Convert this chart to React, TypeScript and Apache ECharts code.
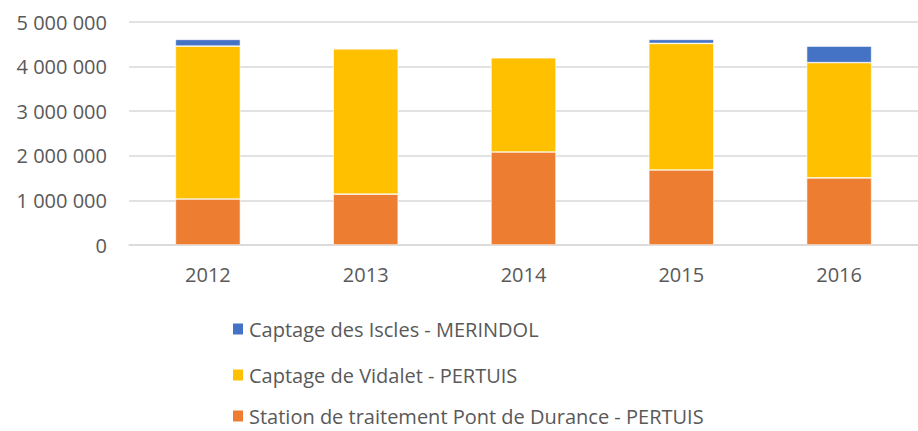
import React, { useEffect, useRef } from "react";
import * as echarts from "echarts";

const categories = ["2012", "2013", "2014", "2015", "2016"];
const seriesNames = [
  "Captage des Iscles - MERINDOL",
  "Captage de Vidalet - PERTUIS",
  "Station de traitement Pont de Durance - PERTUIS",
];
const stationPontDurance = [1030000, 1140000, 2085000, 1683000, 1504000];
const captageVidalet = [3430000, 3260000, 2115000, 2837000, 2586000];
const captageIscles = [150000, 0, 0, 90000, 370000];
const yTicks = [0, 1000000, 2000000, 3000000, 4000000, 5000000];

const colors = { iscles: "#4472C4", vidalet: "#FFC000", station: "#ED7D31" };
const FONT = "Open Sans";
const TEXT = "#595959";

function fmt(v: number): string {
  return String(v).replace(/\B(?=(\d{3})+(?!\d))/g, " ");
}

export default function App() {
  const ref = useRef<HTMLDivElement>(null);
  useEffect(() => {
    if (!ref.current) return;
    const chart = echarts.init(ref.current, undefined, { renderer: "svg" });
    const barStyle = (c: string) => ({ color: c, borderColor: "#ffffff", borderWidth: 0.6 });
    const legendTops = [319, 365, 406];
    const legends = seriesNames.map((n, i) => ({
      orient: "vertical",
      left: 231,
      top: legendTops[i],
      padding: 0,
      itemWidth: 12,
      itemHeight: 13,
      icon: "rect",
      data: [n],
      textStyle: { fontFamily: FONT, fontSize: 20, color: TEXT, lineHeight: 20 },
    }));
    chart.setOption({
      animation: false,
      backgroundColor: "#ffffff",
      grid: { left: 129, right: -8, top: 22, bottom: 186, containLabel: false },
      legend: legends,
      xAxis: {
        type: "category",
        data: categories,
        axisTick: { show: false },
        axisLine: { show: true, lineStyle: { color: "#D9D9D9", width: 1.5 } },
        axisLabel: { fontFamily: FONT, fontSize: 20, color: TEXT, margin: 19 },
      },
      yAxis: {
        type: "value",
        min: yTicks[0],
        max: yTicks[yTicks.length - 1],
        interval: 1000000,
        axisLine: { show: false },
        axisTick: { show: false },
        splitLine: { lineStyle: { color: "#D9D9D9", width: 1.5 } },
        axisLabel: {
          fontFamily: FONT,
          fontSize: 20,
          color: TEXT,
          margin: 22,
          formatter: (v: number) => fmt(v),
        },
      },
      series: [
        {
          name: seriesNames[2],
          type: "bar",
          stack: "t",
          barWidth: 65,
          data: stationPontDurance,
          itemStyle: barStyle(colors.station),
        },
        {
          name: seriesNames[1],
          type: "bar",
          stack: "t",
          barWidth: 65,
          data: captageVidalet,
          itemStyle: barStyle(colors.vidalet),
        },
        {
          name: seriesNames[0],
          type: "bar",
          stack: "t",
          barWidth: 65,
          data: captageIscles,
          itemStyle: barStyle(colors.iscles),
        },
      ],
    });
    return () => chart.dispose();
  }, []);
  return (
    <div
      ref={ref}
      style={{ position: "fixed", left: 0, top: 0, width: 918, height: 431, background: "#fff" }}
    />
  );
}
